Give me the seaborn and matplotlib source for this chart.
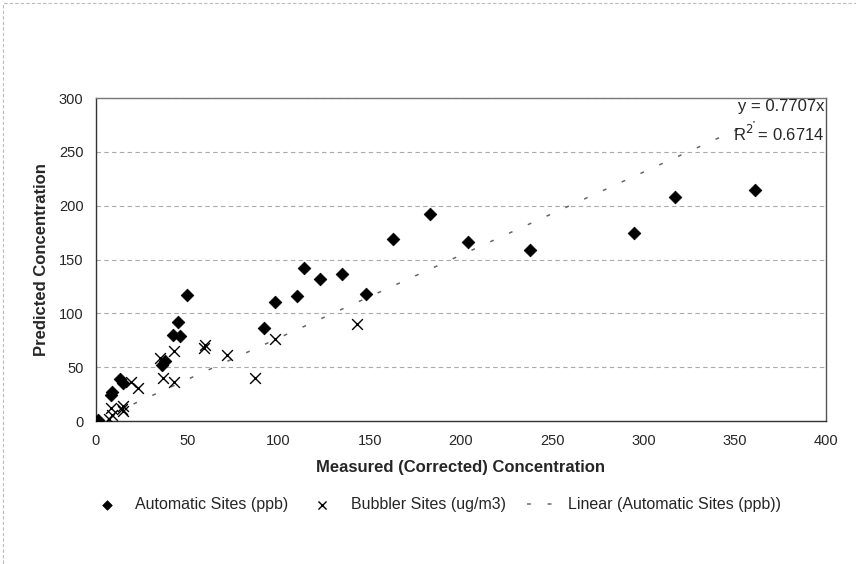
import numpy as np
import pandas as pd
import matplotlib
matplotlib.use("Agg")
import matplotlib.pyplot as plt
import seaborn as sns
from matplotlib.patches import Rectangle

# automatic sites (ppb)
auto_x = [1, 8, 9, 13, 15, 36, 38, 42, 45, 46, 50, 92, 98, 110, 114, 123, 135, 148,
          163, 183, 204, 238, 295, 317, 361]
auto_y = [1, 24, 27, 39, 35, 52, 56, 80, 92, 79, 117, 86, 111, 116, 142, 132, 137, 118,
          169, 192, 166, 159, 175, 208, 215]

# bubbler sites (ug/m3)
bub_x = [7, 8, 9, 14, 15, 15, 19, 23, 35, 37, 43, 43, 59, 60, 72, 87, 98, 143]
bub_y = [2, 12, 6, 11, 9, 14, 36, 31, 59, 40, 65, 36, 68, 71, 61, 40, 76, 90]

slope = 0.7707
r2 = 0.6714

sns.set_style("white")
plt.rcParams['font.family'] = ['Liberation Sans', 'DejaVu Sans']

fig = plt.figure(figsize=(8.56, 5.64), dpi=100)
ax = fig.add_axes([0.1121, 0.2535, 0.8529, 0.5727])

df_auto = pd.DataFrame({"x": auto_x, "y": auto_y})
df_bub = pd.DataFrame({"x": bub_x, "y": bub_y})
tx = np.array([0, max(auto_x)])
df_fit = pd.DataFrame({"x": tx, "y": slope * tx})

sns.lineplot(data=df_fit, x="x", y="y", ax=ax, color="#666666", lw=1.1,
             linestyle=(0, (2.5, 11)), label="Linear (Automatic Sites (ppb))", zorder=2)
sns.scatterplot(data=df_auto, x="x", y="y", ax=ax, marker="D", s=42, color="black",
                edgecolor="black", label="Automatic Sites (ppb)", zorder=3)
sns.scatterplot(data=df_bub, x="x", y="y", ax=ax, marker="x", s=60, color="black",
                linewidth=1.0, label="Bubbler Sites (ug/m3)", zorder=3)

ax.set_xlim(0, 400)
ax.set_ylim(0, 300)
ax.set_xticks(range(0, 401, 50))
ax.set_yticks(range(0, 301, 50))
ax.yaxis.grid(True, color="#aaaaaa", linestyle=(0, (4, 3)), lw=0.8)
ax.xaxis.grid(False)
for s in ax.spines.values():
    s.set_color("#333333")
    s.set_linewidth(1.0)
ax.spines["top"].set_color("#777777")
ax.spines["right"].set_color("#555555")
ax.spines["right"].set_linestyle((0, (1, 1)))
ax.tick_params(axis="x", direction="out", length=3, labelsize=10.5, color="#333333", pad=6)
ax.tick_params(axis="y", length=0, labelsize=10.5, pad=9)

ax.set_xlabel("Measured (Corrected) Concentration", fontsize=12, fontweight="bold", labelpad=9)
ax.set_ylabel("Predicted Concentration", fontsize=12, fontweight="bold", labelpad=7)

ax.text(0.998, 0.975, "y = 0.7707x", transform=ax.transAxes, ha="right", va="center", fontsize=12)
ax.text(0.998, 0.89, "R$^2$ = %.4f" % r2, transform=ax.transAxes, ha="right", va="center", fontsize=12)

h, l = ax.get_legend_handles_labels()
order = [l.index("Automatic Sites (ppb)"), l.index("Bubbler Sites (ug/m3)"),
         l.index("Linear (Automatic Sites (ppb))")]
ax.legend_.remove()
fig.legend([h[i] for i in order], [l[i] for i in order], ncol=3, loc="center",
           bbox_to_anchor=(0.511, 0.105), frameon=False, fontsize=11.5,
           handlelength=1.6, columnspacing=1.3, handletextpad=1.0, markerscale=0.75)

fig.patches.append(Rectangle((0.003, -0.01), 1.1, 1.004, transform=fig.transFigure,
                             fill=False, edgecolor="#bbbbbb", lw=0.8, linestyle=(0, (3, 2))))

fig.savefig("out.png", dpi=100)
